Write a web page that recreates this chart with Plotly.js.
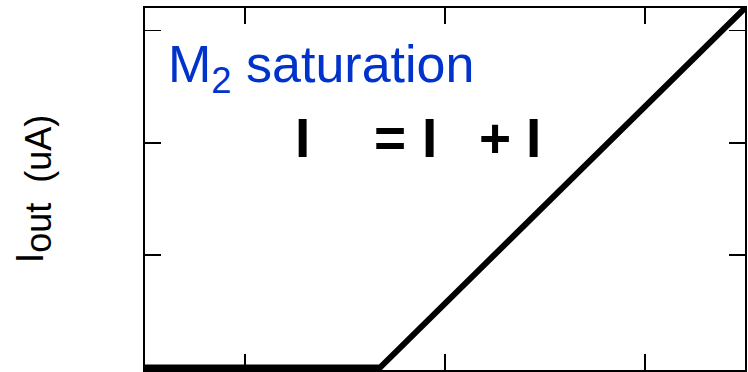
<!DOCTYPE html>
<html>
<head>
<meta charset="utf-8">
<script src="https://cdn.plot.ly/plotly-3.0.1.min.js"></script>
<style>
  html, body { margin: 0; padding: 0; background: #ffffff; }
  #chart { width: 748px; height: 372px; }
</style>
</head>
<body>
<div id="chart"></div>
<script>
// Output current vs. input: zero until the knee, then rising linearly
const vIn = [0, 2.35, 6];
const iOut = [0, 0, 3.2];

const xTicks = [1, 3, 5];
const yTicks = [1, 2, 3];

const FONT = 'Liberation Sans, Arial, Helvetica, sans-serif';

const trace = {
  x: vIn,
  y: iOut,
  type: 'scatter',
  mode: 'lines',
  line: { color: '#000000', width: 6 },
  hoverinfo: 'skip',
  showlegend: false
};

// Plot-area pixel -> paper fraction helpers for text placement
const PL = 145, PR = 745, PT = 8, PB = 370;
const px = v => (v - PL) / (PR - PL);
const py = v => (PB - v) / (PB - PT);

function glyph(text, cx, cy) {
  return {
    xref: 'paper', yref: 'paper',
    x: px(cx), y: py(cy),
    xanchor: 'center', yanchor: 'middle',
    text: '<b>' + text + '</b>',
    showarrow: false,
    font: { family: FONT, size: 55, color: '#000000' }
  };
}

const layout = {
  width: 748,
  height: 372,
  margin: { l: PL, r: 748 - PR, t: PT, b: 372 - PB },
  paper_bgcolor: '#ffffff',
  plot_bgcolor: '#ffffff',
  font: { family: FONT, color: '#000000' },
  xaxis: {
    range: [0, 6],
    tickvals: xTicks,
    ticks: 'inside',
    ticklen: 16,
    tickwidth: 1.5,
    tickcolor: '#000000',
    showticklabels: false,
    showgrid: false,
    zeroline: false,
    showline: true,
    linewidth: 2,
    linecolor: '#000000',
    mirror: 'ticks'
  },
  yaxis: {
    range: [-0.022, 3.2],
    tickvals: yTicks,
    ticks: 'inside',
    ticklen: 16,
    tickwidth: 1.5,
    tickcolor: '#000000',
    showticklabels: false,
    showgrid: false,
    zeroline: false,
    showline: true,
    linewidth: 2,
    linecolor: '#000000',
    mirror: 'ticks',
    title: {
      text: '\u00a0\u00a0\u00a0\u00a0I<sub><span style="font-size:36px">out\u00a0\u00a0(uA)</span></sub>',
      font: { family: FONT, size: 38, color: '#000000' },
      standoff: 88
    }
  },
  annotations: [
    {
      xref: 'paper', yref: 'paper',
      x: px(166), y: py(33),
      xanchor: 'left', yanchor: 'top',
      text: 'M<sub>2</sub> saturation',
      showarrow: false,
      font: { family: FONT, size: 52, color: '#0033cc' }
    },
    glyph('I', 302, 138),
    glyph('=', 390, 138),
    glyph('I', 429, 138),
    glyph('+', 495, 138),
    glyph('I', 533, 138)
  ]
};

Plotly.newPlot('chart', [trace], layout, { displayModeBar: false, staticPlot: true });
</script>
</body>
</html>
